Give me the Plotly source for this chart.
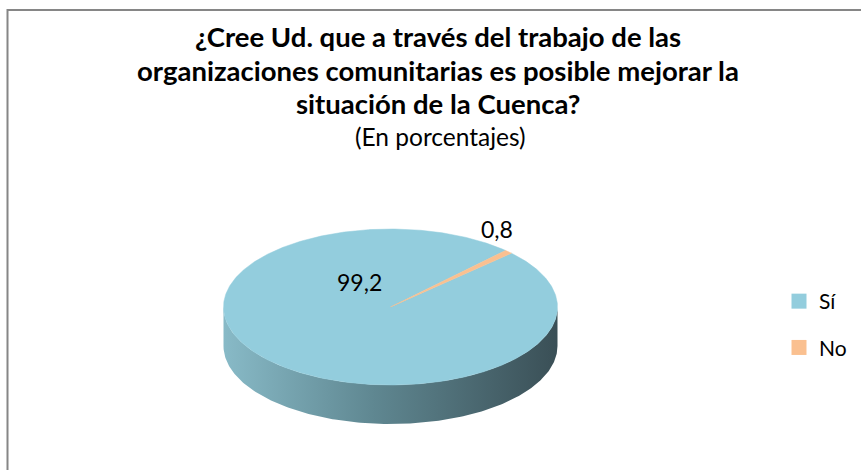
import numpy as np
import plotly.graph_objects as go

# ---- data ----
categories = ["Sí", "No"]
values = [99.2, 0.8]
title_lines = ["¿Cree Ud. que a través del trabajo de las",
               "organizaciones comunitarias es posible mejorar la",
               "situación de la Cuenca?"]
subtitle = "(En porcentajes)"

# ---- style ----
top_colors = ["#93CDDD", "#FAC090"]
side_scales = [
    [[0, "#88bac7"], [0.45, "#5f8791"], [1, "#3a4f56"]],
    [[0, "#d9a47a"], [1, "#a3714a"]],
]
W, H = 861, 470
CX, CY, RX, RY, DEPTH = 390.5, 307.0, 167.0, 78.0, 39.0
FIRST_SLICE_ANGLE = 46.4  # degrees clockwise from 12 o'clock
FONT = "Lato"


def pt(t_deg, dy=0.0):
    t = np.radians(t_deg)
    return CX + RX * np.cos(t), CY - RY * np.sin(t) + dy


fig = go.Figure()

total = sum(values)
cum = FIRST_SLICE_ANGLE
slices = []
for cat, v in zip(categories, values):
    span = v / total * 360.0
    c0, c1 = cum, cum + span
    cum = c1
    t0, t1 = 90 - c0, 90 - c1
    slices.append((cat, t0, t1))

# sides (front visible half: t in [180, 360])
for i, (cat, t0, t1) in enumerate(slices):
    lo, hi = min(t0, t1), max(t0, t1)
    for shift in (-720, -360, 0, 360, 720):
        a, b = max(lo + shift, 180), min(hi + shift, 360)
        if b - a > 0.01:
            ts = np.linspace(a, b, 200)
            xs_top, ys_top = pt(ts)
            xs_bot, ys_bot = pt(ts[::-1], DEPTH)
            xs = np.concatenate([xs_top, xs_bot, xs_top[:1]])
            ys = np.concatenate([ys_top, ys_bot, ys_top[:1]])
            fig.add_trace(go.Scatter(
                x=xs, y=ys, mode="lines", fill="toself",
                line=dict(width=0, color="rgba(0,0,0,0)"),
                fillgradient=dict(type="horizontal", colorscale=side_scales[i]),
                showlegend=False, hoverinfo="skip"))

# top faces
for i, (cat, t0, t1) in enumerate(slices):
    ts = np.linspace(t0, t1, max(3, int(abs(t1 - t0) * 2)))
    ax, ay = pt(ts)
    xs = np.concatenate([[CX], ax, [CX]])
    ys = np.concatenate([[CY], ay, [CY]])
    fig.add_trace(go.Scatter(
        x=xs, y=ys, mode="lines", fill="toself",
        fillcolor=top_colors[i], line=dict(width=0.5, color=top_colors[i]),
        showlegend=False, hoverinfo="skip", name=cat))

# legend entries
for i, cat in enumerate(categories):
    fig.add_trace(go.Scatter(
        x=[None], y=[None], mode="markers", name=cat, legendgroup=cat,
        marker=dict(symbol="square", size=15, color=top_colors[i])))

# data labels
label_pos = [(359, 282), (497, 229)]
for (lx, ly), v in zip(label_pos, values):
    fig.add_annotation(x=lx, y=ly, text=f"{v:.1f}".replace(".", ","),
                       showarrow=False, font=dict(size=23, color="#000", family=FONT),
                       xanchor="center", yanchor="middle")

# title
title_y = [36, 70, 103]
for ty, line in zip(title_y, title_lines):
    fig.add_annotation(x=438, y=ty, text=f"<b>{line}</b>", showarrow=False,
                       font=dict(size=27.5, color="#000", family=FONT),
                       xanchor="center", yanchor="middle")
fig.add_annotation(x=440, y=136, text=subtitle, showarrow=False,
                   font=dict(size=24.5, color="#000", family=FONT),
                   xanchor="center", yanchor="middle")

# chart border
fig.add_shape(type="rect", x0=7.5, y0=10, x1=W + 10, y1=H + 10,
              line=dict(color="#868686", width=2), layer="above")

fig.update_xaxes(range=[0, W], visible=False, fixedrange=True)
fig.update_yaxes(range=[H, 0], visible=False, fixedrange=True)
fig.update_layout(
    width=W, height=H, margin=dict(l=0, r=0, t=0, b=0),
    paper_bgcolor="white", plot_bgcolor="white",
    legend=dict(x=779 / W, y=1 - 281 / H, xanchor="left", yanchor="top",
                font=dict(size=21, family=FONT, color="#000"),
                tracegroupgap=16, bgcolor="rgba(0,0,0,0)"),
    showlegend=True,
)

fig.write_html("out.html", config={"displayModeBar": False},
               post_script="document.body.style.margin='0';document.body.style.overflow='hidden';")
